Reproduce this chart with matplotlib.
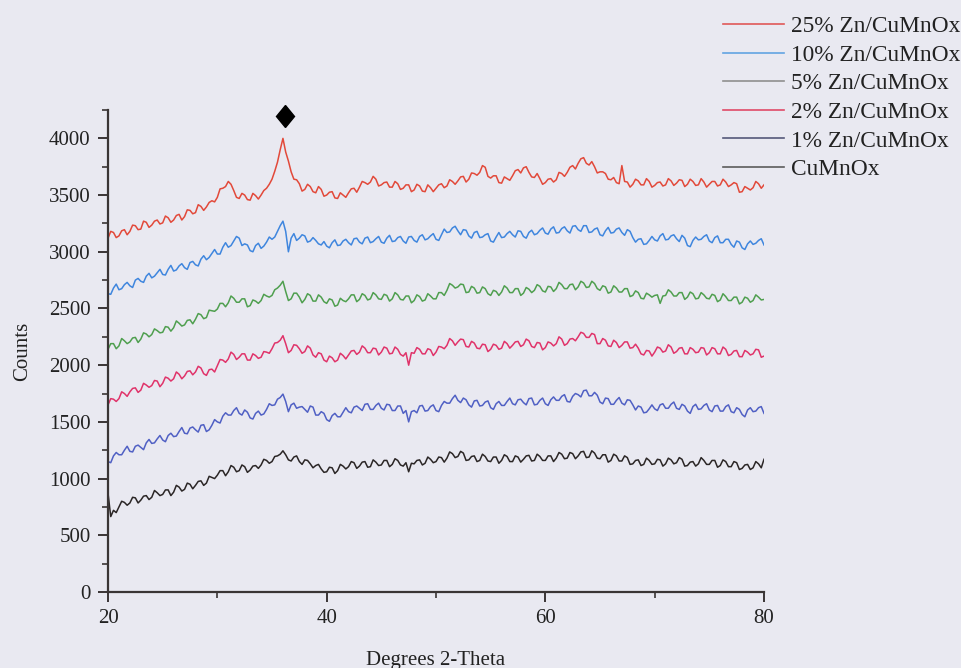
import numpy as np
import matplotlib
matplotlib.use("Agg")
from matplotlib import pyplot as plt
from matplotlib.lines import Line2D
from matplotlib.markers import MarkerStyle
from matplotlib.transforms import Affine2D

plt.rcParams['font.family'] = ['Liberation Serif', 'DejaVu Serif']

# 2-theta grid, 0.25 degree steps
two_theta = np.arange(20, 80.001, 0.25)

zn25 = [3120, 3180, 3170, 3125, 3140, 3185, 3195, 3150, 3180, 3235,
        3230, 3195, 3200, 3270, 3260, 3215, 3235, 3270, 3280, 3245,
        3255, 3315, 3300, 3260, 3280, 3320, 3330, 3280, 3310, 3370,
        3365, 3335, 3345, 3415, 3400, 3365, 3395, 3435, 3450, 3440,
        3480, 3555, 3560, 3575, 3620, 3595, 3540, 3480, 3470, 3515,
        3500, 3460, 3455, 3515, 3495, 3465, 3500, 3540, 3560, 3595,
        3640, 3710, 3790, 3900, 4000, 3880, 3800, 3705, 3640, 3635,
        3600, 3535, 3550, 3595, 3575, 3530, 3520, 3575, 3550, 3490,
        3500, 3525, 3530, 3475, 3470, 3520, 3500, 3480, 3520, 3555,
        3560, 3525, 3570, 3620, 3610, 3595, 3615, 3665, 3640, 3580,
        3590, 3610, 3615, 3570, 3570, 3620, 3600, 3550, 3560, 3590,
        3590, 3530, 3545, 3595, 3580, 3535, 3530, 3590, 3565, 3530,
        3560, 3590, 3600, 3565, 3580, 3635, 3620, 3595, 3625, 3660,
        3665, 3615, 3640, 3695, 3690, 3675, 3700, 3760, 3745, 3665,
        3650, 3670, 3670, 3610, 3605, 3660, 3645, 3630, 3670, 3715,
        3725, 3695, 3740, 3750, 3700, 3660, 3655, 3690, 3645, 3595,
        3610, 3640, 3645, 3615, 3635, 3700, 3690, 3665, 3700, 3745,
        3760, 3730, 3780, 3820, 3830, 3780, 3765, 3795, 3750, 3695,
        3705, 3705, 3690, 3640, 3635, 3655, 3610, 3600, 3760, 3620,
        3615, 3570, 3595, 3640, 3625, 3590, 3590, 3645, 3620, 3570,
        3585, 3610, 3615, 3580, 3590, 3645, 3625, 3585, 3605, 3635,
        3630, 3575, 3595, 3640, 3620, 3585, 3590, 3645, 3615, 3570,
        3595, 3620, 3620, 3580, 3590, 3640, 3615, 3575, 3590, 3610,
        3600, 3525, 3530, 3575, 3560, 3545, 3565, 3620, 3600, 3560,
        3590]

zn10 = [2630, 2625, 2680, 2715, 2665, 2675, 2710, 2730, 2700, 2685,
        2750, 2765, 2740, 2730, 2785, 2810, 2770, 2785, 2815, 2845,
        2800, 2795, 2845, 2880, 2830, 2840, 2875, 2895, 2860, 2845,
        2905, 2915, 2885, 2875, 2935, 2965, 2930, 2950, 2985, 3020,
        2980, 2980, 3040, 3080, 3040, 3055, 3095, 3135, 3120, 3055,
        3070, 3060, 3010, 3000, 3055, 3075, 3030, 3050, 3085, 3130,
        3110, 3130, 3180, 3230, 3270, 3180, 3000, 3120, 3160, 3100,
        3120, 3150, 3140, 3085, 3095, 3125, 3100, 3070, 3060, 3090,
        3050, 3035, 3080, 3105, 3055, 3060, 3095, 3110, 3080, 3060,
        3115, 3120, 3085, 3070, 3120, 3130, 3080, 3090, 3115, 3135,
        3085, 3075, 3120, 3145, 3090, 3095, 3125, 3135, 3095, 3075,
        3130, 3135, 3100, 3085, 3135, 3150, 3105, 3115, 3140, 3160,
        3110, 3100, 3150, 3200, 3170, 3175, 3210, 3225, 3185, 3150,
        3195, 3190, 3140, 3120, 3170, 3180, 3125, 3130, 3150, 3160,
        3095, 3085, 3130, 3170, 3125, 3130, 3160, 3180, 3150, 3130,
        3185, 3180, 3135, 3120, 3170, 3190, 3150, 3160, 3190, 3210,
        3165, 3155, 3200, 3220, 3165, 3170, 3205, 3220, 3185, 3165,
        3225, 3230, 3195, 3180, 3230, 3230, 3170, 3175, 3200, 3210,
        3150, 3140, 3185, 3215, 3165, 3170, 3200, 3210, 3170, 3145,
        3195, 3180, 3125, 3085, 3110, 3115, 3065, 3070, 3100, 3135,
        3105, 3095, 3140, 3160, 3105, 3110, 3140, 3150, 3115, 3090,
        3145, 3120, 3055, 3045, 3100, 3130, 3105, 3110, 3135, 3150,
        3095, 3080, 3125, 3140, 3080, 3080, 3110, 3110, 3065, 3040,
        3095, 3085, 3035, 3020, 3070, 3095, 3065, 3075, 3100, 3115,
        3060]

zn5 = [2140, 2190, 2190, 2145, 2170, 2235, 2215, 2190, 2205, 2240,
       2245, 2200, 2230, 2285, 2275, 2250, 2270, 2320, 2305, 2285,
       2290, 2340, 2335, 2300, 2330, 2390, 2370, 2345, 2355, 2395,
       2400, 2365, 2405, 2455, 2445, 2410, 2420, 2485, 2480, 2475,
       2495, 2545, 2545, 2515, 2550, 2610, 2590, 2555, 2555, 2585,
       2585, 2515, 2525, 2575, 2565, 2545, 2570, 2625, 2610, 2600,
       2615, 2665, 2680, 2705, 2740, 2650, 2570, 2585, 2635, 2635,
       2600, 2550, 2580, 2630, 2615, 2565, 2565, 2620, 2600, 2560,
       2545, 2585, 2575, 2520, 2530, 2590, 2570, 2560, 2585, 2620,
       2620, 2560, 2580, 2630, 2615, 2575, 2585, 2640, 2620, 2585,
       2580, 2625, 2615, 2565, 2585, 2640, 2620, 2580, 2575, 2610,
       2610, 2550, 2570, 2620, 2605, 2565, 2575, 2630, 2610, 2585,
       2585, 2640, 2640, 2615, 2660, 2720, 2705, 2680, 2690, 2715,
       2710, 2640, 2645, 2695, 2680, 2635, 2640, 2690, 2675, 2630,
       2615, 2660, 2650, 2615, 2645, 2700, 2680, 2640, 2640, 2675,
       2675, 2615, 2635, 2685, 2670, 2640, 2660, 2710, 2695, 2655,
       2645, 2695, 2690, 2650, 2675, 2730, 2710, 2675, 2675, 2710,
       2715, 2665, 2690, 2740, 2725, 2685, 2690, 2740, 2720, 2675,
       2660, 2700, 2690, 2635, 2645, 2700, 2680, 2645, 2645, 2675,
       2675, 2605, 2615, 2655, 2640, 2590, 2585, 2635, 2620, 2600,
       2615, 2620, 2545, 2610, 2615, 2665, 2645, 2610, 2610, 2640,
       2640, 2580, 2600, 2645, 2630, 2585, 2590, 2640, 2620, 2590,
       2585, 2625, 2615, 2560, 2575, 2630, 2605, 2570, 2570, 2600,
       2600, 2540, 2555, 2600, 2590, 2555, 2570, 2620, 2600, 2575,
       2580]

zn2 = [1650, 1705, 1700, 1680, 1705, 1765, 1750, 1725, 1765, 1795,
       1800, 1760, 1780, 1840, 1825, 1805, 1820, 1865, 1860, 1810,
       1840, 1895, 1885, 1860, 1880, 1940, 1920, 1880, 1905, 1945,
       1950, 1915, 1940, 1990, 1975, 1925, 1910, 1960, 1965, 1940,
       1995, 2050, 2045, 2025, 2055, 2115, 2095, 2050, 2070, 2100,
       2100, 2045, 2045, 2100, 2085, 2060, 2070, 2120, 2115, 2105,
       2145, 2195, 2200, 2220, 2260, 2190, 2110, 2130, 2180, 2175,
       2145, 2105, 2120, 2170, 2150, 2090, 2070, 2110, 2100, 2045,
       2030, 2080, 2065, 2030, 2045, 2105, 2085, 2055, 2090, 2125,
       2130, 2095, 2115, 2170, 2150, 2110, 2110, 2150, 2145, 2090,
       2115, 2160, 2150, 2100, 2105, 2160, 2140, 2095, 2080, 2110,
       2000, 2110, 2105, 2155, 2140, 2100, 2100, 2145, 2135, 2085,
       2115, 2165, 2160, 2145, 2175, 2235, 2215, 2175, 2205, 2230,
       2225, 2165, 2160, 2210, 2195, 2150, 2145, 2185, 2180, 2120,
       2140, 2185, 2175, 2140, 2150, 2210, 2190, 2150, 2175, 2205,
       2210, 2165, 2180, 2230, 2215, 2165, 2155, 2200, 2195, 2135,
       2155, 2205, 2195, 2170, 2190, 2250, 2230, 2175, 2190, 2230,
       2235, 2215, 2250, 2290, 2280, 2245, 2245, 2280, 2270, 2190,
       2190, 2235, 2220, 2170, 2165, 2220, 2200, 2155, 2175, 2205,
       2205, 2150, 2155, 2185, 2150, 2100, 2090, 2130, 2125, 2080,
       2115, 2160, 2150, 2115, 2125, 2180, 2160, 2105, 2120, 2150,
       2155, 2100, 2100, 2155, 2140, 2110, 2115, 2155, 2150, 2090,
       2110, 2155, 2145, 2100, 2100, 2160, 2140, 2085, 2095, 2125,
       2130, 2075, 2075, 2130, 2115, 2090, 2100, 2140, 2135, 2070,
       2080]

zn1 = [1150, 1140, 1200, 1230, 1210, 1210, 1250, 1285, 1240, 1235,
       1285, 1295, 1275, 1255, 1315, 1345, 1310, 1315, 1350, 1380,
       1340, 1325, 1380, 1400, 1370, 1375, 1415, 1450, 1400, 1395,
       1445, 1455, 1430, 1410, 1470, 1475, 1415, 1430, 1470, 1520,
       1500, 1490, 1550, 1580, 1560, 1560, 1600, 1625, 1575, 1560,
       1605, 1585, 1535, 1525, 1575, 1595, 1560, 1570, 1610, 1660,
       1645, 1650, 1700, 1715, 1745, 1680, 1590, 1650, 1665, 1620,
       1630, 1635, 1610, 1585, 1640, 1630, 1560, 1560, 1590, 1575,
       1520, 1505, 1555, 1575, 1545, 1545, 1585, 1625, 1590, 1580,
       1630, 1640, 1620, 1600, 1655, 1660, 1610, 1610, 1645, 1665,
       1620, 1605, 1655, 1650, 1600, 1600, 1640, 1640, 1575, 1600,
       1500, 1590, 1600, 1580, 1640, 1645, 1595, 1600, 1635, 1650,
       1600, 1590, 1645, 1680, 1665, 1665, 1705, 1735, 1690, 1670,
       1710, 1695, 1650, 1630, 1685, 1690, 1640, 1645, 1675, 1685,
       1625, 1610, 1660, 1680, 1645, 1645, 1680, 1710, 1660, 1650,
       1695, 1700, 1670, 1650, 1705, 1710, 1650, 1655, 1690, 1710,
       1660, 1645, 1695, 1720, 1690, 1690, 1725, 1740, 1680, 1675,
       1725, 1750, 1740, 1720, 1775, 1780, 1730, 1730, 1760, 1735,
       1675, 1660, 1710, 1705, 1655, 1655, 1690, 1715, 1665, 1650,
       1695, 1690, 1650, 1605, 1640, 1630, 1580, 1585, 1615, 1650,
       1615, 1600, 1650, 1660, 1620, 1620, 1655, 1675, 1620, 1610,
       1655, 1640, 1595, 1575, 1635, 1655, 1610, 1615, 1645, 1660,
       1605, 1590, 1640, 1645, 1595, 1595, 1635, 1650, 1590, 1580,
       1625, 1610, 1565, 1545, 1605, 1625, 1590, 1595, 1625, 1635,
       1575]

cumnox = [870, 665, 720, 700, 750, 800, 790, 765, 785, 835,
          830, 785, 810, 845, 850, 815, 835, 895, 875, 850,
          860, 900, 900, 850, 880, 940, 925, 890, 905, 960,
          950, 910, 940, 975, 980, 940, 960, 1020, 1010, 1000,
          1030, 1070, 1070, 1025, 1060, 1115, 1100, 1060, 1070, 1120,
          1105, 1055, 1075, 1110, 1115, 1090, 1120, 1170, 1160, 1135,
          1150, 1195, 1200, 1215, 1245, 1210, 1165, 1155, 1190, 1200,
          1150, 1125, 1165, 1160, 1130, 1095, 1115, 1125, 1085, 1055,
          1060, 1100, 1095, 1045, 1070, 1125, 1110, 1085, 1105, 1150,
          1140, 1090, 1110, 1145, 1150, 1100, 1105, 1165, 1145, 1115,
          1120, 1160, 1160, 1105, 1125, 1175, 1160, 1120, 1110, 1140,
          1060, 1135, 1130, 1160, 1165, 1120, 1135, 1190, 1170, 1140,
          1150, 1190, 1185, 1145, 1180, 1235, 1220, 1185, 1195, 1240,
          1225, 1160, 1165, 1195, 1200, 1150, 1160, 1215, 1195, 1155,
          1150, 1190, 1190, 1135, 1160, 1210, 1195, 1150, 1150, 1200,
          1190, 1145, 1170, 1200, 1205, 1155, 1160, 1215, 1195, 1160,
          1160, 1200, 1200, 1150, 1180, 1230, 1215, 1175, 1180, 1230,
          1220, 1175, 1200, 1235, 1240, 1185, 1190, 1245, 1225, 1180,
          1175, 1210, 1210, 1145, 1160, 1215, 1200, 1155, 1155, 1200,
          1185, 1125, 1130, 1160, 1165, 1115, 1125, 1180, 1160, 1125,
          1130, 1170, 1165, 1110, 1130, 1180, 1165, 1130, 1140, 1185,
          1170, 1110, 1115, 1145, 1150, 1110, 1130, 1185, 1160, 1125,
          1125, 1160, 1160, 1100, 1115, 1165, 1150, 1105, 1105, 1150,
          1140, 1080, 1090, 1120, 1125, 1080, 1095, 1150, 1130, 1095,
          1170]

labels = ["25% Zn/CuMnOx", "10% Zn/CuMnOx", "5% Zn/CuMnOx",
          "2% Zn/CuMnOx", "1% Zn/CuMnOx", "CuMnOx"]
series = [zn25, zn10, zn5, zn2, zn1, cumnox]
line_colors = ["#e2493a", "#3f86de", "#4f9f4f", "#e0336a", "#5060c4", "#2b2626"]
key_colors = ["#e05858", "#62a4e2", "#8f8f8f", "#e04a68", "#55587a", "#5c5c5c"]

# marked reflection
peak_x = [36.2]
peak_y = [4200]

bg = "#e9e9f1"
fig = plt.figure(figsize=(9.61, 6.68), dpi=100, facecolor=bg)
ax = fig.add_axes([0.1124, 0.1138, 0.6826, 0.7215])
ax.set_facecolor(bg)

for ys, c in zip(series, line_colors):
    ax.plot(two_theta, ys, color=c, lw=1.1)

diamond = MarkerStyle("D", transform=Affine2D().scale(0.8, 1.0))
ax.plot(peak_x, peak_y, marker=diamond, ms=11, color="black", ls="none",
        clip_on=False)

ax.set_xlim(20, 80)
ax.set_ylim(0, 4250)
ax.set_xticks([20, 40, 60, 80])
ax.set_xticks([30, 50, 70], minor=True)
ax.set_yticks(np.arange(0, 4001, 500))
ax.set_yticks(np.arange(250, 4251, 500), minor=True)

for side in ["top", "right"]:
    ax.spines[side].set_visible(False)
for side in ["left", "bottom"]:
    ax.spines[side].set_color("#3a3535")
    ax.spines[side].set_linewidth(1.6)

ax.tick_params(which="major", direction="out", length=7.5, width=1.4, pad=5,
               colors="#3a3535", labelsize=15, labelcolor="#222222")
ax.tick_params(which="minor", direction="out", length=4, width=1.2,
               colors="#3a3535")

ax.set_xlabel("Degrees 2-Theta", fontsize=15, color="#222222", labelpad=16)
ax.set_ylabel("Counts", fontsize=15, color="#222222", labelpad=12)

handles = [Line2D([], [], color=c, lw=1.2) for c in key_colors]
fig.legend(handles, labels, loc="upper left", bbox_to_anchor=(0.743, 0.99),
           frameon=False, fontsize=16.8, handlelength=2.6, handletextpad=0.3,
           labelspacing=0.31, borderaxespad=0, labelcolor="#222222")

fig.savefig("out.png", dpi=100, facecolor=bg)
